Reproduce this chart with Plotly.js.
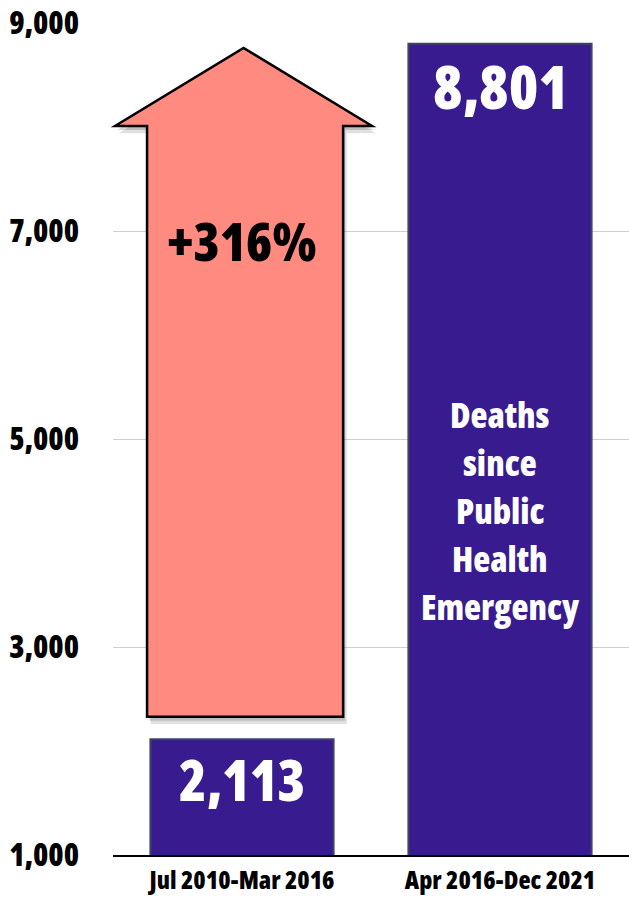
<!DOCTYPE html>
<html><head><meta charset="utf-8">
<script src="https://cdn.plot.ly/plotly-3.0.1.min.js"></script>
<style>
html,body{margin:0;padding:0;background:#fff}
svg text{font-stretch:80% !important;}
</style>
</head><body>
<div id="chart" style="width:629px;height:897px"></div>
<script>
const categories = ["Jul 2010-Mar 2016", "Apr 2016-Dec 2021"];
const deaths = [2113, 8801];
const valueLabels = ["2,113", "8,801"];
const tickVals = [1000, 3000, 5000, 7000, 9000];
const tickText = ["1,000", "3,000", "5,000", "7,000", "9,000"];
const changeLabel = "+316%";
const noteLines = ["Deaths", "since", "Public", "Health", "Emergency"];
// arrow extent (y values)
const arrowBottom = 2330, arrowNeck = 8010, arrowTip = 8760;

const FONT = "'Open Sans', 'DejaVu Sans', sans-serif";
const W = 800;

const trace = {
  type: "bar",
  x: categories,
  y: deaths,
  marker: {color: "#381B8F", line: {color: "#3E4466", width: 2}},
  hoverinfo: "skip"
};

// arrow in paper x, data y
const sl = 0.066, sr = 0.446, hl = 0.004, hr = 0.502, ax = 0.253;
function arrowPath(dx, dy) {
  const P = (x, y) => (x + dx) + "," + (y + dy);
  return "M" + P(sl, arrowBottom) + " L" + P(sl, arrowNeck) + " L" + P(hl, arrowNeck) +
    " L" + P(ax, arrowTip) + " L" + P(hr, arrowNeck) + " L" + P(sr, arrowNeck) +
    " L" + P(sr, arrowBottom) + " Z";
}

const shapes = [
  {type: "path", xref: "paper", yref: "y", path: arrowPath(0.007, -70),
   fillcolor: "rgba(0,0,0,0.12)", line: {width: 0}, layer: "above"},
  {type: "path", xref: "paper", yref: "y", path: arrowPath(0.004, -40),
   fillcolor: "rgba(0,0,0,0.15)", line: {width: 0}, layer: "above"},
  {type: "path", xref: "paper", yref: "y", path: arrowPath(0, 0),
   fillcolor: "#FF8A80", line: {color: "#000", width: 2.5}, layer: "above"}
];

const noteTop = 5231, noteStep = 461.5;
const annotations = [
  {x: categories[0], y: deaths[0], yanchor: "middle", yshift: -40, text: valueLabels[0], showarrow: false,
   font: {family: FONT, size: 56, color: "#fff", weight: W}},
  {x: categories[1], y: deaths[1], yanchor: "middle", yshift: -42, text: valueLabels[1], showarrow: false,
   font: {family: FONT, size: 60, color: "#fff", weight: W}},
  {x: categories[0], y: 6909, yanchor: "middle", text: changeLabel, showarrow: false,
   font: {family: FONT, size: 53, color: "#000", weight: W}}
].concat(noteLines.map((t, i) => ({
  x: categories[1], y: noteTop - i * noteStep, yanchor: "middle", text: t, showarrow: false,
  font: {family: FONT, size: 35, color: "#fff", weight: W}
})));

const layout = {
  width: 629, height: 897,
  margin: {l: 113, r: 0, t: 23, b: 42},
  paper_bgcolor: "#fff", plot_bgcolor: "#fff",
  bargap: 0.29,
  showlegend: false,
  xaxis: {type: "category", showgrid: false, showline: true, linecolor: "#000", linewidth: 2,
    ticks: "", tickfont: {family: FONT, size: 25, color: "#000", weight: W}, ticklabelstandoff: 2},
  yaxis: {range: [1000, 9000], tickvals: tickVals, ticktext: tickText, showgrid: true,
    gridcolor: "#cfcfcf", gridwidth: 1, zeroline: false, showline: false, ticks: "",
    ticklabelstandoff: 33, tickfont: {family: FONT, size: 31, color: "#000", weight: W}},
  shapes: shapes,
  annotations: annotations
};

Plotly.newPlot("chart", [trace], layout, {displayModeBar: false, staticPlot: true});
</script>
</body></html>
